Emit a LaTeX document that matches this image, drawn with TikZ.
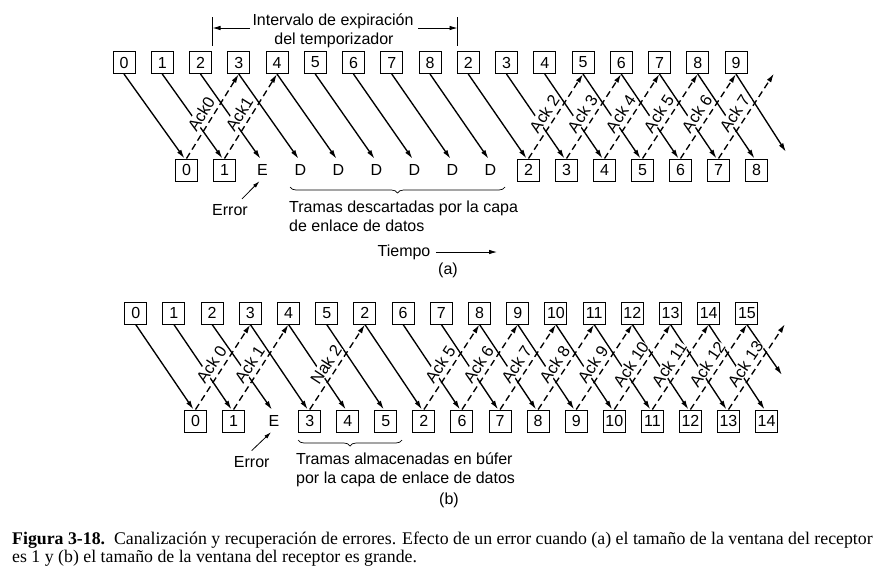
\documentclass[tikz,border=0pt]{standalone}
\usepackage{fontspec}
\setmainfont{Liberation Sans}
\newfontfamily\capfont{Liberation Serif}
\usetikzlibrary{arrows.meta}
\usetikzlibrary{decorations.pathreplacing}

\tikzset{
  frame/.style = {draw, line width=1pt, minimum size=22pt, inner sep=0pt},
  noframe/.style = {minimum size=22pt, inner sep=0pt},
  data/.style = {line width=1.35pt, -{Latex[length=9pt,width=5pt]}},
  ack/.style = {line width=1.35pt, dash pattern=on 6.5pt off 4pt, -{Latex[length=9pt,width=5pt]}},
  acklabel/.style = {sloped, above=4pt, pos=0.46, fill=white, inner sep=0.3pt, font=\fontsize{16.5}{18}\selectfont},
  brc/.style = {decorate, decoration={brace, mirror, amplitude=6pt}, line width=0.7pt},
  note/.style = {align=left, anchor=north west, inner sep=0pt}
}

\begin{document}
\begin{tikzpicture}[x=1pt, y=-1pt, font=\fontsize{16}{18.5}\selectfont]
  \useasboundingbox (0,0) rectangle (896,579);

  % ---------------- (a) receiver window 1 ----------------
  % frames leaving the sender
  \foreach \lbl [count=\k from 0] in {0,1,2,3,4,5,6,7,8,2,3,4,5,6,7,8,9}
    \node[frame] (ta\k) at (124+38.25*\k, 62.5) {\lbl};

  % frames at the receiver (E = error, D = discarded)
  \foreach \k/\lbl in {0/0,1/1,9/2,10/3,11/4,12/5,13/6,14/7,15/8}
    \node[frame] (ba\k) at (186.5+38*\k, 170) {\lbl};
  \foreach \k/\lbl in {2/E,3/D,4/D,5/D,6/D,7/D,8/D}
    \node[noframe] (ba\k) at (186.5+38*\k, 170) {\lbl};

  % data frames going down
  \foreach \k in {0,...,15}
    \draw[data] (ta\k.south) -- ([xshift=-2pt]ba\k.north);
  \coordinate (aend) at (786,152);
  \draw[data] (ta16.south) -- (aend);

  % acks going back up
  \foreach \k/\lbl [evaluate=\k as \t using int(\k+3)] in
      {0/Ack0,1/Ack1,9/Ack 2,10/Ack 3,11/Ack 4,12/Ack 5,13/Ack 6}
    \draw[ack] (ba\k.north) -- node[acklabel] {\lbl} (ta\t.south);
  \coordinate (afree) at (774,73.5);
  \draw[ack] (ba14.north) -- node[acklabel] {Ack 7} (afree);

  % timeout interval
  \node (tmr1) at (333,21.5) {Intervalo de expiración};
  \node (tmr2) at (334,40) {del temporizador};
  \coordinate (tla) at (212.5,17);
  \coordinate (tlb) at (212.5,46);
  \coordinate (tra) at (457.5,17);
  \coordinate (trb) at (457.5,46);
  \draw[line width=0.8pt] (tla) -- (tlb);
  \draw[line width=0.8pt] (tra) -- (trb);
  \draw[line width=0.8pt, -{Latex[length=8pt,width=4.5pt]}] (250,28) -- (tla |- 0,28);
  \draw[line width=0.8pt, -{Latex[length=8pt,width=4.5pt]}] (418,28) -- (tra |- 0,28);

  % error and discarded frames
  \node (erra) at (230,210) {Error};
  \draw[line width=0.8pt, -{Latex[length=7pt,width=4pt]}] ([xshift=12pt,yshift=2pt]erra.north) -- ([xshift=-3pt]ba2.south);
  \draw[brc] (290,187) -- (505,187);
  \node[note] (dsc) at (289,201) {Tramas descartadas por la capa\\de enlace de datos};

  % time axis
  \node (tmp) at (404,252) {Tiempo};
  \coordinate (tmpend) at (497,252);
  \draw[line width=0.8pt, -{Latex[length=8pt,width=4.5pt]}] ([xshift=2pt]tmp.east) -- (tmpend);
  \node (capa) at (448,270) {(a)};

  % ---------------- (b) large receiver window ----------------
  \foreach \lbl [count=\k from 0] in {0,1,2,3,4,5,2,6,7,8,9,10,11,12,13,14,15}
    \node[frame] (tb\k) at (135.7+38.2*\k, 313) {\lbl};

  \foreach \k/\lbl in {0/0,1/1,3/3,4/4,5/5,6/2,7/6,8/7,9/8,10/9,11/10,12/11,13/12,14/13,15/14}
    \node[frame] (bb\k) at (195.5+38.07*\k, 421) {\lbl};
  \node[noframe] (bb2) at (274,421) {E};

  \foreach \k in {0,...,15}
    \draw[data] (tb\k.south) -- ([xshift=-2pt]bb\k.north);
  \coordinate (bend) at (782,375);
  \draw[data] (tb16.south) -- (bend);

  \foreach \k/\lbl [evaluate=\k as \t using int(\k+3)] in
      {0/Ack 0,1/Ack 1,3/Nak 2,6/Ack 5,7/Ack 6,8/Ack 7,9/Ack 8,10/Ack 9,11/Ack 10,12/Ack 11,13/Ack 12}
    \draw[ack] (bb\k.north) -- node[acklabel] {\lbl} (tb\t.south);
  \coordinate (bfree) at (785,324);
  \draw[ack] (bb14.north) -- node[acklabel] {Ack 13} (bfree);

  \node (errb) at (251.7,461.7) {Error};
  \draw[line width=0.8pt, -{Latex[length=7pt,width=4pt]}] ([yshift=2pt]errb.north) -- ([xshift=-3pt]bb2.south);
  \draw[brc] (298,440) -- (402,440);
  \node[note] (buf) at (296,453) {Tramas almacenadas en búfer\\por la capa de enlace de datos};
  \node (capb) at (449,500) {(b)};

  % ---------------- caption ----------------
  \node[anchor=base west, inner sep=0pt, font=\capfont\fontsize{17.8}{18}\selectfont] (cap1) at (12,544)
    {\textbf{Figura 3-18.}\ \ Canalización y recuperación de errores. Efecto de un error cuando (a) el tamaño de la ventana del receptor};
  \node[anchor=base west, inner sep=0pt, font=\capfont\fontsize{17.8}{18}\selectfont] (cap2) at (12,562)
    {es 1 y (b) el tamaño de la ventana del receptor es grande.};
\end{tikzpicture}
\end{document}
